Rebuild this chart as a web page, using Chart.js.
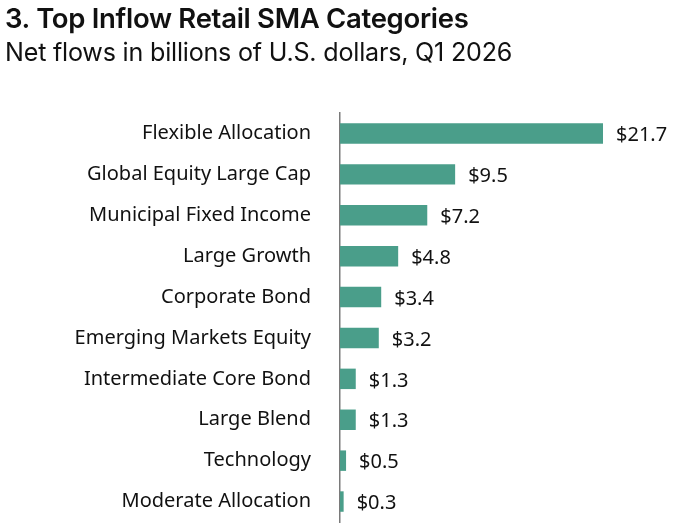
<!DOCTYPE html>
<html>
<head>
<meta charset="utf-8">
<script src="https://cdn.jsdelivr.net/npm/chart.js@4"></script>
<style>
  html, body { margin: 0; padding: 0; background: #fff; overflow: hidden; }
  #wrap { position: relative; width: 675px; height: 527px; overflow: hidden; }
  #chartBox { position: absolute; left: 0; top: 0; width: 675px; height: 527px; }
  #title { position: absolute; left: 5px; top: 1px; font-family: Inter, sans-serif; font-weight: 600; font-size: 27.5px; color: #111; letter-spacing: -0.3px; white-space: nowrap; }
  #subtitle { position: absolute; left: 5px; top: 37px; font-family: Inter, sans-serif; font-weight: 400; font-size: 25.1px; color: #111; letter-spacing: -0.2px; white-space: nowrap; }
</style>
</head>
<body>
<div id="wrap">
  <div id="chartBox"><canvas id="c"></canvas></div>
  <div id="title">3. Top Inflow Retail SMA Categories</div>
  <div id="subtitle">Net flows in billions of U.S. dollars, Q1 2026</div>
</div>
<script>
const categories = [
  "Flexible Allocation",
  "Global Equity Large Cap",
  "Municipal Fixed Income",
  "Large Growth",
  "Corporate Bond",
  "Emerging Markets Equity",
  "Intermediate Core Bond",
  "Large Blend",
  "Technology",
  "Moderate Allocation"
];
const netFlows = [21.7, 9.5, 7.2, 4.8, 3.4, 3.2, 1.3, 1.3, 0.5, 0.3];
const valueLabels = ["$21.7", "$9.5", "$7.2", "$4.8", "$3.4", "$3.2", "$1.3", "$1.3", "$0.5", "$0.3"];

const valueLabelPlugin = {
  id: 'valueLabels',
  afterDatasetsDraw(chart) {
    const ctx = chart.ctx;
    const meta = chart.getDatasetMeta(0);
    ctx.save();
    ctx.font = '20px "Noto Sans", sans-serif';
    ctx.fillStyle = '#111';
    ctx.textAlign = 'left';
    ctx.textBaseline = 'middle';
    meta.data.forEach((bar, i) => {
      ctx.fillText(valueLabels[i], bar.x + 13, bar.y + 2);
    });
    ctx.restore();
  }
};

new Chart(document.getElementById('c'), {
  type: 'bar',
  data: {
    labels: categories,
    datasets: [{
      data: netFlows,
      backgroundColor: '#4a9e8a',
      borderWidth: 0,
      barPercentage: 0.5,
      categoryPercentage: 1.0
    }]
  },
  options: {
    indexAxis: 'y',
    responsive: true,
    maintainAspectRatio: false,
    animation: false,
    devicePixelRatio: 1,
    layout: { padding: { top: 113, right: 32, bottom: 5, left: 0 } },
    plugins: { legend: { display: false }, tooltip: { enabled: false }, title: { display: false } },
    scales: {
      x: {
        display: false,
        min: 0,
        max: 25,
        afterFit(scale) { scale.height = 0; }
      },
      y: {
        afterFit(scale) { scale.width = 340; scale.paddingTop = 0; scale.paddingBottom = 0; },
        grid: { display: false, drawTicks: false },
        border: { display: true, color: '#7a7a7a', width: 1.5 },
        ticks: {
          padding: 29,
          color: '#111',
          autoSkip: false,
          font: { family: '"Noto Sans", sans-serif', size: 20 }
        }
      }
    }
  },
  plugins: [valueLabelPlugin]
});
</script>
</body>
</html>
